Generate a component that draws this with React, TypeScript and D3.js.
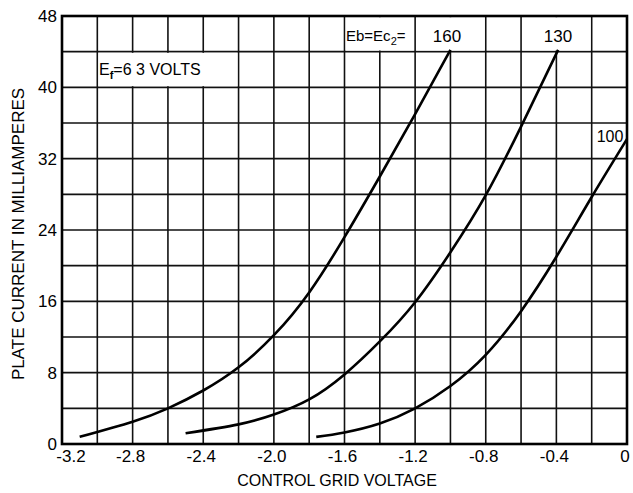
import React from "react";
import * as d3 from "d3";

const xTickValues = [-3.2, -2.8, -2.4, -2.0, -1.6, -1.2, -0.8, -0.4, 0];
const xTickLabels = ["-3.2", "-2.8", "-2.4", "-2.0", "-1.6", "-1.2", "-0.8", "-0.4", "0"];
const yTickValues = [0, 8, 16, 24, 32, 40, 48];
const yTickLabels = ["0", "8", "16", "24", "32", "40", "48"];

const grid160V = [-3.1, -2.8, -2.6, -2.4, -2.2, -2.0, -1.8, -1.6, -1.4, -1.2, -1.0];
const grid160I = [0.8, 2.5, 4.0, 6.0, 8.6, 12.2, 17.0, 23.2, 30.0, 37.0, 44.2];
const grid130V = [-2.5, -2.2, -2.0, -1.8, -1.6, -1.4, -1.2, -1.0, -0.8, -0.6, -0.39];
const grid130I = [1.2, 2.2, 3.3, 5.0, 7.8, 11.5, 15.9, 21.5, 27.9, 35.6, 44.2];
const grid100V = [-1.76, -1.6, -1.4, -1.2, -1.0, -0.8, -0.6, -0.4, -0.2, 0];
const grid100I = [0.8, 1.3, 2.3, 4.0, 6.5, 10.0, 14.9, 21.0, 27.7, 34.2];

const seriesNames = ["160", "130", "100"];

const W = 633;
const H = 493;
const left = 62;
const right = 627;
const top = 16;
const bottom = 444;
const font = "'Liberation Sans', Arial, sans-serif";

export default function App() {
  const x = d3.scaleLinear().domain([-3.2, 0]).range([left, right]);
  const y = d3.scaleLinear().domain([0, 48]).range([bottom, top]);

  const xGrid = d3.range(17).map((i) => -3.2 + i * 0.2);
  const yGrid = d3.range(13).map((i) => i * 4);

  const line = d3
    .line<[number, number]>()
    .x((d) => x(d[0]))
    .y((d) => y(d[1]))
    .curve(d3.curveNatural);

  const series = [
    grid160V.map((v, i) => [v, grid160I[i]] as [number, number]),
    grid130V.map((v, i) => [v, grid130I[i]] as [number, number]),
    grid100V.map((v, i) => [v, grid100I[i]] as [number, number]),
  ];

  const boxes = [
    { x0: -3.0, x1: -2.2, y0: 40, y1: 44 },
    { x0: -1.6, x1: -1.2, y0: 44, y1: 48 },
    { x0: -1.2, x1: -0.8, y0: 44, y1: 48 },
    { x0: -0.6, x1: -0.2, y0: 44, y1: 48 },
  ];

  return (
    <svg
      width={W}
      height={H}
      style={{ position: "absolute", left: 0, top: 0, background: "#fff" }}
      fontFamily={font}
    >
      <rect x={0} y={0} width={W} height={H} fill="#fff" />
      {xGrid.map((v, i) => (
        <line key={"xg" + i} x1={x(v)} x2={x(v)} y1={top} y2={bottom} stroke="#111" strokeWidth={1.6} />
      ))}
      {yGrid.map((v, i) => (
        <line key={"yg" + i} x1={left} x2={right} y1={y(v)} y2={y(v)} stroke="#111" strokeWidth={1.6} />
      ))}
      {boxes.map((b, i) => (
        <rect
          key={"bx" + i}
          x={x(b.x0) + 1.2}
          y={y(b.y1) + 1.2}
          width={x(b.x1) - x(b.x0) - 2.4}
          height={y(b.y0) - y(b.y1) - 2.4}
          fill="#fff"
        />
      ))}
      <rect x={left} y={top} width={right - left} height={bottom - top} fill="none" stroke="#000" strokeWidth={2.6} />

      {series.map((s, i) => (
        <path key={"s" + i} d={line(s) || ""} fill="none" stroke="#000" strokeWidth={2.6} />
      ))}

      {yTickValues.map((v, i) => (
        <text key={"yt" + i} x={57} y={y(v)} dy="0.36em" textAnchor="end" fontSize={17} fill="#000">
          {yTickLabels[i]}
        </text>
      ))}
      {xTickValues.map((v, i) => (
        <text
          key={"xt" + i}
          x={i === 0 ? x(v) + 9 : x(v) - 2}
          y={462}
          textAnchor="middle"
          fontSize={17}
          fill="#000"
        >
          {xTickLabels[i]}
        </text>
      ))}

      <text x={337} y={486} textAnchor="middle" fontSize={16} fill="#000">
        CONTROL GRID VOLTAGE
      </text>
      <text transform={`translate(24, 234) rotate(-90)`} textAnchor="middle" fontSize={17} fill="#000">
        PLATE CURRENT IN MILLIAMPERES
      </text>

      <text x={99} y={75} fontSize={16} fill="#000">
        E<tspan fontSize={11} dy={4} fontWeight="bold">f</tspan>
        <tspan dy={-4}>=6 3 VOLTS</tspan>
      </text>
      <text x={346} y={41} fontSize={15} fill="#000">
        Eb=Ec<tspan fontSize={11} dy={4}>2</tspan>
        <tspan dy={-4}>=</tspan>
      </text>
      <text x={447} y={42} textAnchor="middle" fontSize={17} fill="#000">
        {seriesNames[0]}
      </text>
      <text x={558} y={42} textAnchor="middle" fontSize={17} fill="#000">
        {seriesNames[1]}
      </text>
      <text x={610} y={142} textAnchor="middle" fontSize={16} fill="#000">
        {seriesNames[2]}
      </text>
    </svg>
  );
}
